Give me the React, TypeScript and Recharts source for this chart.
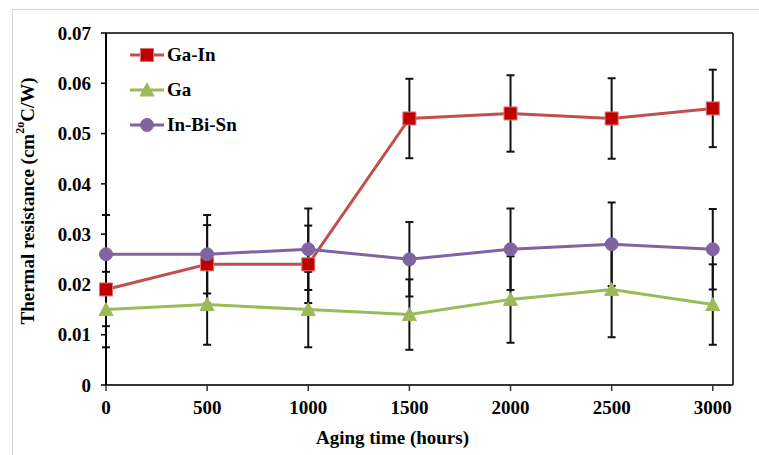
import React from 'react';
import { LineChart, Line, XAxis, YAxis, ErrorBar, Legend, ReferenceLine } from 'recharts';

const hours = [0, 500, 1000, 1500, 2000, 2500, 3000];
const gaIn = [0.019, 0.024, 0.024, 0.053, 0.054, 0.053, 0.055];
const ga = [0.015, 0.016, 0.015, 0.014, 0.017, 0.019, 0.016];
const inBiSn = [0.026, 0.026, 0.027, 0.025, 0.027, 0.028, 0.027];
const gaInErr = [0.0073, 0.0078, 0.0077, 0.0079, 0.0076, 0.008, 0.0077];
const gaErr = [0.0075, 0.008, 0.0075, 0.007, 0.0086, 0.0095, 0.008];
const inBiSnErr = [0.0078, 0.0078, 0.0081, 0.0074, 0.0081, 0.0083, 0.008];
const xTicks = [0, 500, 1000, 1500, 2000, 2500, 3000];
const yTicks = [0, 0.01, 0.02, 0.03, 0.04, 0.05, 0.06, 0.07];
const seriesKeys = ['gaIn', 'ga', 'inBiSn'];
const seriesNames = ['Ga-In', 'Ga', 'In-Bi-Sn'];

const data = hours.map((h, i) => ({
  h,
  gaIn: gaIn[i],
  ga: ga[i],
  inBiSn: inBiSn[i],
  gaInErr: gaInErr[i],
  gaErr: gaErr[i],
  inBiSnErr: inBiSnErr[i],
}));

const FONT = '"Liberation Serif", "Times New Roman", serif';

const styles: Record<string, { line: string; fill: string; stroke: string }> = {
  gaIn: { line: '#C0504D', fill: '#C00000', stroke: '#E07070' },
  ga: { line: '#9BBB59', fill: '#9BBB59', stroke: '#9BBB59' },
  inBiSn: { line: '#8064A2', fill: '#8064A2', stroke: '#8064A2' },
};

function Marker({ k, cx, cy }: { k: string; cx: number; cy: number }) {
  const s = styles[k];
  if (k === 'gaIn') {
    return <rect x={cx - 6.5} y={cy - 6.5} width={13} height={13} fill={s.fill} stroke={s.stroke} strokeWidth={1} />;
  }
  if (k === 'ga') {
    return (
      <polygon
        points={`${cx},${cy - 7} ${cx + 7},${cy + 6} ${cx - 7},${cy + 6}`}
        fill={s.fill}
        stroke={s.stroke}
        strokeWidth={1}
      />
    );
  }
  return <circle cx={cx} cy={cy} r={6.5} fill={s.fill} stroke={s.stroke} strokeWidth={1} />;
}

const makeDot = (k: string) => (props: any) => {
  const { cx, cy, index } = props;
  if (cx == null || cy == null) return <g key={`${k}-${index}`} />;
  return (
    <g key={`${k}-${index}`}>
      <Marker k={k} cx={cx} cy={cy} />
    </g>
  );
};

const renderLegend = () => {
  return (
    <div style={{ fontFamily: FONT, fontWeight: 'bold', fontSize: 19, color: '#000', whiteSpace: 'nowrap' }}>
      {seriesKeys.map((k, i) => (
        <div key={k} style={{ display: 'flex', alignItems: 'center', height: 35 }}>
          <svg width={36} height={20} style={{ display: 'block' }}>
            <line x1={0} y1={10} x2={34} y2={10} stroke={styles[k].line} strokeWidth={3} />
            <Marker k={k} cx={17} cy={10} />
          </svg>
          <span style={{ marginLeft: 1, fontFamily: FONT }}>{seriesNames[i]}</span>
        </div>
      ))}
    </div>
  );
};

const YLabel = (props: any) => {
  const vb = props.viewBox || { x: 0, y: 0, width: 0, height: 0 };
  const cx = vb.x - 19;
  const cy = vb.y + vb.height / 2 - 8;
  return (
    <text
      x={cx}
      y={cy}
      transform={`rotate(-90, ${cx}, ${cy})`}
      textAnchor="middle"
      dominantBaseline="central"
      fontFamily={FONT}
      fontWeight="bold"
      fontSize={19}
      fill="#000"
    >
      Thermal resistance (cm
      <tspan fontSize={12} dy={-7}>2o</tspan>
      <tspan dy={7}>C/W)</tspan>
    </text>
  );
};

const XLabel = (props: any) => {
  const vb = props.viewBox || { x: 0, y: 0, width: 0, height: 0 };
  return (
    <text
      x={vb.x + vb.width / 2 - 27}
      y={vb.y + vb.height - 3}
      textAnchor="middle"
      fontFamily={FONT}
      fontWeight="bold"
      fontSize={19}
      fill="#000"
    >
      Aging time (hours)
    </text>
  );
};

const tickStyle = { fontFamily: FONT, fontWeight: 'bold' as const, fontSize: 19, fill: '#000' };

export default function App() {
  return (
    <div
      style={{
        position: 'absolute',
        left: 0,
        top: 0,
        width: 759,
        height: 455,
        background: '#fff',
        overflow: 'hidden',
        fontFamily: FONT,
        fontWeight: 'bold',
      }}
    >
      <div
        style={{
          position: 'absolute',
          left: 12,
          top: 9,
          width: 760,
          height: 460,
          borderTop: '1px solid #d4d4d4',
          borderLeft: '1px solid #d4d4d4',
        }}
      />
      <div style={{ position: 'absolute', left: 0, top: 0 }}>
        <LineChart width={759} height={455} data={data} margin={{ top: 33, right: 26, bottom: 8, left: 46 }}>
          <XAxis
            dataKey="h"
            type="number"
            domain={[0, 3100]}
            ticks={xTicks}
            tick={tickStyle}
            tickSize={6}
            tickMargin={10}
            height={62}
            stroke="#333"
            strokeWidth={2}
            tickLine={{ stroke: '#333', strokeWidth: 1.5 }}
            label={<XLabel />}
          />
          <YAxis
            type="number"
            domain={[0, 0.07]}
            ticks={yTicks}
            tickFormatter={(v: number) => (v === 0 ? '0' : v.toFixed(2))}
            tick={tickStyle}
            tickSize={5}
            tickMargin={10}
            width={60}
            stroke="#000"
            strokeWidth={2}
            tickLine={{ stroke: '#000', strokeWidth: 1.5 }}
            label={<YLabel />}
          />
          <ReferenceLine y={0.07} stroke="#000" strokeWidth={1.5} />
          <ReferenceLine x={3100} stroke="#000" strokeWidth={1.5} />
          <Legend
            content={renderLegend}
            layout="vertical"
            verticalAlign="middle"
            align="center"
            wrapperStyle={{ top: 37, left: 130, width: 'auto', height: 'auto' }}
          />
          <Line
            type="linear"
            dataKey="gaIn"
            name="Ga-In"
            stroke={styles.gaIn.line}
            strokeWidth={3}
            dot={makeDot('gaIn')}
            isAnimationActive={false}
          >
            <ErrorBar dataKey="gaInErr" width={4} strokeWidth={2} stroke="#111" direction="y" isAnimationActive={false} />
          </Line>
          <Line
            type="linear"
            dataKey="ga"
            name="Ga"
            stroke={styles.ga.line}
            strokeWidth={3}
            dot={makeDot('ga')}
            isAnimationActive={false}
          >
            <ErrorBar dataKey="gaErr" width={4} strokeWidth={2} stroke="#111" direction="y" isAnimationActive={false} />
          </Line>
          <Line
            type="linear"
            dataKey="inBiSn"
            name="In-Bi-Sn"
            stroke={styles.inBiSn.line}
            strokeWidth={3}
            dot={makeDot('inBiSn')}
            isAnimationActive={false}
          >
            <ErrorBar dataKey="inBiSnErr" width={4} strokeWidth={2} stroke="#111" direction="y" isAnimationActive={false} />
          </Line>
        </LineChart>
      </div>
    </div>
  );
}
